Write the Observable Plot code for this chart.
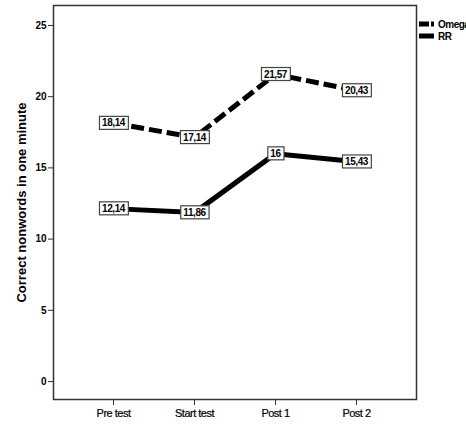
<!DOCTYPE html>
<html>
<head>
<meta charset="utf-8">
<script src="https://cdn.jsdelivr.net/npm/d3@7"></script>
<script src="https://cdn.jsdelivr.net/npm/@observablehq/plot@0.6"></script>
<style>
  html, body { margin: 0; padding: 0; background: #fff; }
  #wrap { position: relative; width: 466px; height: 432px; overflow: hidden; font-family: "Liberation Sans", Arial, sans-serif; }
  #legend { position: absolute; left: 419px; top: 18px; font-size: 10px; font-weight: bold; color: #000; letter-spacing: -0.5px; white-space: nowrap; }
  .li { display: flex; align-items: center; height: 12px; }
  .sw { margin-right: 4px; display: block; }
</style>
</head>
<body>
<div id="wrap"><div id="legend"></div></div>
<script>
const phases = ["Pre test", "Start test", "Post 1", "Post 2"];
const seriesNames = ["Omega", "RR"];
const omegaValues = [18.14, 17.14, 21.57, 20.43];
const rrValues = [12.14, 11.86, 16, 15.43];
const yTicks = [0, 5, 10, 15, 20, 25];
const yTitle = "Correct nonwords in one minute";

const data = [];
phases.forEach((p, i) => data.push({phase: p, value: omegaValues[i], series: "Omega"}));
phases.forEach((p, i) => data.push({phase: p, value: rrValues[i], series: "RR"}));
const fmt = v => String(v).replace(".", ",");

const chart = Plot.plot({
  width: 466,
  height: 432,
  marginLeft: 53,
  marginRight: 50,
  marginTop: 5,
  marginBottom: 33,
  style: {fontFamily: "Liberation Sans, Arial, sans-serif", background: "#fff", color: "#000"},
  x: {type: "point", domain: phases, padding: 0.72},
  y: {domain: [-1.26, 26.4]},
  marks: [
    Plot.frame({stroke: "#333", strokeWidth: 1.5}),
    Plot.axisY({ticks: yTicks, tickSize: 5, tickPadding: 2, fontSize: 10, fontWeight: "bold", stroke: "#333",
      label: yTitle, labelAnchor: "center", labelArrow: "none", labelOffset: 37}),
    Plot.axisX({tickSize: 6, tickPadding: 4, fontSize: 11, label: null, stroke: "#333"}),
    Plot.line(data.filter(d => d.series === "Omega"), {x: "phase", y: "value", stroke: "#000", strokeWidth: 5, strokeDasharray: "13,5", strokeLinecap: "butt"}),
    Plot.line(data.filter(d => d.series === "RR"), {x: "phase", y: "value", stroke: "#000", strokeWidth: 5}),
    Plot.text(data, {x: "phase", y: "value", text: d => fmt(d.value), fontSize: 10, fontWeight: "bold", fill: "#000", className: "vlabel"})
  ]
});
document.getElementById("wrap").prepend(chart);

// y-axis title styling
chart.querySelectorAll("[aria-label='y-axis label'] text").forEach(t => {
  t.setAttribute("font-size", "13"); t.setAttribute("font-weight", "bold");
});
chart.querySelectorAll("[aria-label='x-axis tick label'] text").forEach(t => {
  t.setAttribute("letter-spacing", "-0.5"); t.setAttribute("stroke", "#000"); t.setAttribute("stroke-width", "0.2");
});

// boxes behind value labels
chart.querySelectorAll(".vlabel").forEach(g => {
  const texts = g.tagName === "text" ? [g] : Array.from(g.querySelectorAll("text"));
  texts.forEach(t => {
    t.setAttribute("letter-spacing", "-0.4");
    const b = t.getBBox();
    const r = document.createElementNS("http://www.w3.org/2000/svg", "rect");
    r.setAttribute("x", b.x - 2.5); r.setAttribute("y", b.y - 1);
    r.setAttribute("width", b.width + 5); r.setAttribute("height", b.height + 2);
    r.setAttribute("fill", "#fff"); r.setAttribute("stroke", "#444"); r.setAttribute("stroke-width", "1.2");
    if (t.getAttribute("transform")) r.setAttribute("transform", t.getAttribute("transform"));
    t.parentNode.insertBefore(r, t);
  });
});

// legend
const NS = "http://www.w3.org/2000/svg";
const leg = document.getElementById("legend");
seriesNames.forEach(name => {
  const row = document.createElement("div"); row.className = "li";
  const sw = document.createElementNS(NS, "svg");
  sw.setAttribute("width", "15"); sw.setAttribute("height", "6"); sw.setAttribute("class", "sw");
  const ln = document.createElementNS(NS, "line");
  ln.setAttribute("x1", "0"); ln.setAttribute("x2", "15"); ln.setAttribute("y1", "3"); ln.setAttribute("y2", "3");
  ln.setAttribute("stroke", "#000"); ln.setAttribute("stroke-width", "5");
  if (name === "Omega") ln.setAttribute("stroke-dasharray", "10,2");
  sw.append(ln);
  const tx = document.createElement("span"); tx.textContent = name;
  row.append(sw, tx); leg.append(row);
});
</script>
</body>
</html>
